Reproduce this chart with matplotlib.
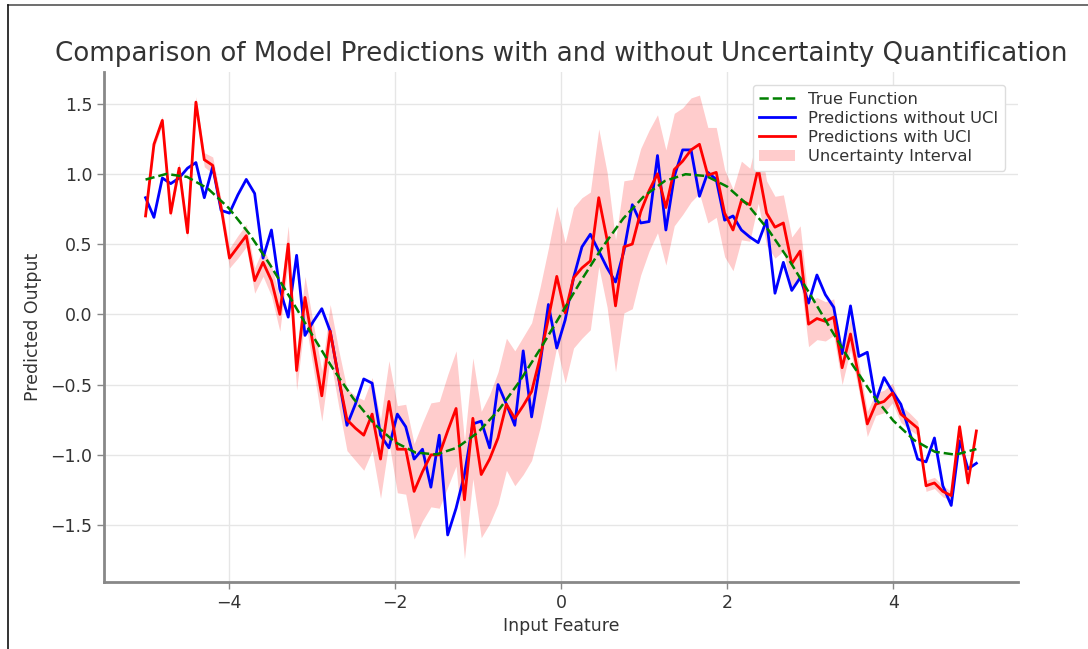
import matplotlib.pyplot as plt
import numpy as np
from matplotlib.lines import Line2D

# x grid of the predictions (100 points from -5 to 5)
x = np.linspace(-5, 5, 100)

# true function, read at every 0.25
true_x = np.arange(-5, 5.01, 0.25)
true_y = [0.959, 0.999, 0.978, 0.895, 0.757, 0.572, 0.351, 0.108, -0.141, -0.382,
          -0.598, -0.778, -0.909, -0.984, -0.997, -0.949, -0.841, -0.682, -0.479, -0.247,
          0.0, 0.247, 0.479, 0.682, 0.841, 0.949, 0.997, 0.984, 0.909, 0.778,
          0.598, 0.382, 0.141, -0.108, -0.351, -0.572, -0.757, -0.895, -0.978, -0.999,
          -0.959]

pred_no_uci = [0.83, 0.69, 0.97, 0.93, 0.97, 1.04, 1.08, 0.83, 1.05, 0.74,
               0.72, 0.85, 0.96, 0.86, 0.40, 0.60, 0.18, -0.02, 0.42, -0.15,
               -0.05, 0.04, -0.12, -0.45, -0.79, -0.64, -0.46, -0.49, -0.86, -0.95,
               -0.71, -0.80, -1.03, -0.96, -1.23, -0.86, -1.57, -1.38, -1.14, -0.78,
               -0.76, -0.95, -0.50, -0.64, -0.79, -0.26, -0.73, -0.36, 0.07, -0.24,
               -0.04, 0.26, 0.48, 0.57, 0.45, 0.33, 0.23, 0.45, 0.78, 0.65,
               0.66, 1.13, 0.60, 0.98, 1.17, 1.17, 0.84, 1.01, 0.96, 0.67,
               0.70, 0.60, 0.55, 0.51, 0.67, 0.15, 0.37, 0.17, 0.26, 0.08,
               0.28, 0.14, 0.05, -0.28, 0.06, -0.30, -0.27, -0.62, -0.45, -0.55,
               -0.64, -0.83, -1.03, -1.05, -0.88, -1.22, -1.36, -0.90, -1.10, -1.06]

pred_uci = [0.70, 1.21, 1.38, 0.72, 1.04, 0.58, 1.51, 1.10, 1.06, 0.76,
            0.40, 0.48, 0.56, 0.24, 0.37, 0.24, 0.00, 0.50, -0.40, 0.12,
            -0.23, -0.58, -0.12, -0.45, -0.75, -0.81, -0.86, -0.71, -1.03, -0.62,
            -0.96, -0.96, -1.26, -1.12, -1.00, -1.00, -0.83, -0.67, -1.32, -0.74,
            -1.14, -1.03, -0.88, -0.64, -0.74, -0.65, -0.55, -0.31, -0.03, 0.27,
            0.01, 0.26, 0.33, 0.38, 0.83, 0.53, 0.06, 0.48, 0.50, 0.73,
            0.88, 1.00, 0.76, 1.03, 1.09, 1.17, 1.21, 0.99, 1.01, 0.72,
            0.60, 0.81, 0.78, 1.04, 0.72, 0.62, 0.65, 0.36, 0.45, -0.07,
            -0.03, -0.05, -0.02, -0.38, -0.14, -0.45, -0.78, -0.64, -0.62, -0.56,
            -0.71, -0.76, -0.81, -1.22, -1.20, -1.26, -1.29, -0.80, -1.20, -0.83]

# half width of the uncertainty band around the UCI predictions
half_width = [0.02, 0.03, 0.03, 0.03, 0.04, 0.04, 0.04, 0.05, 0.06, 0.06,
              0.07, 0.08, 0.08, 0.09, 0.10, 0.11, 0.12, 0.13, 0.14, 0.15,
              0.16, 0.18, 0.19, 0.20, 0.22, 0.23, 0.25, 0.26, 0.28, 0.29,
              0.31, 0.32, 0.34, 0.35, 0.37, 0.38, 0.40, 0.41, 0.42, 0.43,
              0.45, 0.46, 0.47, 0.47, 0.48, 0.49, 0.49, 0.50, 0.50, 0.50,
              0.50, 0.50, 0.50, 0.49, 0.49, 0.48, 0.47, 0.47, 0.46, 0.45,
              0.43, 0.42, 0.41, 0.40, 0.38, 0.37, 0.35, 0.34, 0.32, 0.31,
              0.29, 0.28, 0.26, 0.25, 0.23, 0.22, 0.20, 0.19, 0.18, 0.16,
              0.15, 0.14, 0.13, 0.12, 0.11, 0.10, 0.09, 0.08, 0.08, 0.07,
              0.06, 0.06, 0.05, 0.04, 0.04, 0.04, 0.03, 0.03, 0.03, 0.02]

pred_uci = np.array(pred_uci)
half_width = np.array(half_width)

fig = plt.figure(figsize=(10.88, 6.49), dpi=100)
ax = fig.add_axes([0.0956, 0.1032, 0.8400, 0.7860])

ax.plot(true_x, true_y, '--', color='green', lw=1.8, label='True Function', zorder=4)
ax.plot(x, pred_no_uci, color='blue', lw=2, label='Predictions without UCI', zorder=3)
ax.plot(x, pred_uci, color='red', lw=2, label='Predictions with UCI', zorder=3)
ax.fill_between(x, pred_uci - half_width, pred_uci + half_width, color='red',
                alpha=0.2, lw=0, label='Uncertainty Interval', zorder=2)

ax.set_title('Comparison of Model Predictions with and without Uncertainty Quantification',
             fontsize=18.8, color='#333333', pad=8)
ax.set_xlabel('Input Feature', fontsize=12.5, color='#333333')
ax.set_ylabel('Predicted Output', fontsize=12.5, color='#333333', labelpad=6)

ax.grid(True, color='#e6e6e6', lw=1)
ax.set_axisbelow(True)
for s in ['top', 'right']:
    ax.spines[s].set_visible(False)
for s in ['left', 'bottom']:
    ax.spines[s].set_color('#888888')
    ax.spines[s].set_linewidth(2)
ax.tick_params(labelsize=12.5, colors='#333333', length=5, width=1)
ax.tick_params(color='#888888')

ax.legend(loc='upper right', fontsize=11.8, frameon=True, framealpha=1,
          edgecolor='#dddddd', borderpad=0.4, labelspacing=0.25,
          handlelength=2.2, labelcolor='#333333', bbox_to_anchor=(0.995, 0.99))

# outer frame of the picture (top and left edges only)
fig.add_artist(Line2D([0.0075, 1.0], [0.992, 0.992], transform=fig.transFigure,
                      color='#555555', lw=1.2))
fig.add_artist(Line2D([0.0075, 0.0075], [0.0, 0.992], transform=fig.transFigure,
                      color='#111111', lw=1.2))

fig.savefig('out.png', dpi=100)
